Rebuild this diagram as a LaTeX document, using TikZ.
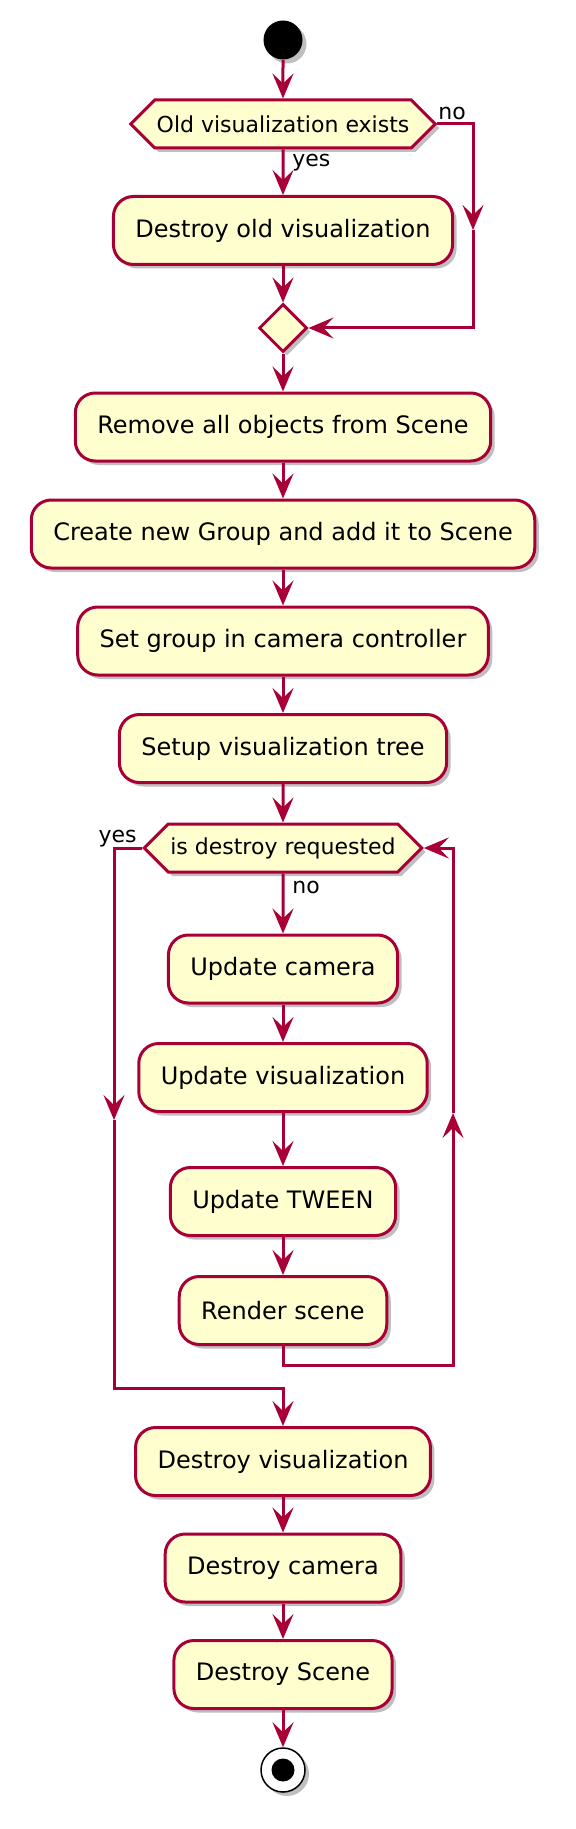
\documentclass[tikz,border=0pt]{standalone}
\usepackage{fontspec}
\setmainfont{DejaVu Sans}
\usetikzlibrary{shapes.geometric, shapes.symbols, arrows.meta, shadows}
\definecolor{umlfill}{HTML}{FEFECE}
\definecolor{umlline}{HTML}{A80036}
\tikzstyle{umlshadow} = [drop shadow={shadow xshift=2pt, shadow yshift=-2pt, opacity=0.25, fill=black}]
\tikzstyle{activity} = [rectangle, rounded corners=10pt, 
minimum height=34pt, 
inner xsep=11pt, 
text centered, 
draw=umlline, line width=1.5pt, 
fill=umlfill, umlshadow, 
font=\fontsize{12}{14}\selectfont]
\tikzstyle{decision} = [signal, signal to=west and east, signal pointer angle=90, 
minimum height=24pt, 
inner xsep=1pt, inner ysep=0pt, 
draw=umlline, line width=1.5pt, 
fill=umlfill, umlshadow, 
font=\fontsize{11}{13}\selectfont]
\tikzstyle{mergenode} = [diamond, minimum size=24pt, inner sep=0pt, 
draw=umlline, line width=1.5pt, fill=umlfill, umlshadow]
\tikzstyle{startnode} = [circle, minimum size=19.5pt, inner sep=0pt, fill=black, umlshadow]
\tikzstyle{endnode} = [circle, minimum size=22pt, inner sep=0pt, draw=black, line width=0.75pt, fill=white, umlshadow]
\tikzstyle{enddot} = [circle, minimum size=11.5pt, inner sep=0pt, fill=black]
\tikzstyle{branchlabel} = [inner sep=0pt, font=\fontsize{11}{13}\selectfont]
\tikzstyle{arrow} = [line width=1.5pt, draw=umlline, -{Stealth[length=12.5pt, width=10.5pt, inset=5pt]}]
\tikzstyle{line} = [line width=1.5pt, draw=umlline]

\begin{document}
\begin{tikzpicture}[x=0.5pt, y=-0.5pt, node distance=53.5pt]
        \useasboundingbox (0,0) rectangle (576,1829);
        \node (start) [startnode] at (283,40) {};
        \node (oldviz) [decision, below of=start, node distance=42pt] {Old visualization exists};
        \node (destroyold) [activity, below of=oldviz, node distance=53.25pt] {Destroy old visualization};
        \node (merge) [mergenode, below of=destroyold, node distance=48.75pt] {};
        \node (removeall) [activity, below of=merge, node distance=49.5pt] {Remove all objects from Scene};
        \node (newgroup) [activity, below of=removeall] {Create new Group and add it to Scene};
        \node (setgroup) [activity, below of=newgroup] {Set group in camera controller};
        \node (setuptree) [activity, below of=setgroup, node distance=53.75pt] {Setup visualization tree};
        \node (destroyreq) [decision, below of=setuptree, node distance=49.75pt] {is destroy requested};
        \node (updcam) [activity, below of=destroyreq, node distance=60.5pt] {Update camera};
        \node (updviz) [activity, below of=updcam, node distance=54.25pt] {Update visualization};
        \node (updtween) [activity, below of=updviz, node distance=62pt] {Update TWEEN};
        \node (render) [activity, below of=updtween, node distance=54.5pt] {Render scene};
        \node (destroyviz) [activity, below of=render, node distance=75.5pt] {Destroy visualization};
        \node (destroycam) [activity, below of=destroyviz, node distance=53.25pt] {Destroy camera};
        \node (destroyscene) [activity, below of=destroycam, node distance=53.25pt] {Destroy Scene};
        \node (stop) [endnode, below of=destroyscene, node distance=47.75pt] {};
        \node (stopdot) [enddot] at (stop) {};
        % branch labels
        \node (oldyes) [branchlabel, anchor=base west] at (292,167) {yes};
        \node (oldno) [branchlabel, anchor=base west] at (438,120) {no};
        \node (reqyes) [branchlabel, anchor=base east] at (137,842) {yes};
        \node (reqno) [branchlabel, anchor=base west] at (292,893) {no};
        % bend points
        \coordinate (nodown) at (473,230);
        \coordinate (yesdown) at (114,1120);
        \coordinate (yesjoin) at (114,1388);
        \coordinate (loopturn) at (453,1365);
        \coordinate (loopup) at (453,1113);
        \draw [arrow] (start) -- (oldviz);
        \draw [arrow] (oldviz) -- (destroyold);
        \draw [arrow] (oldviz.east) -| (nodown);
        \draw [arrow] (nodown) |- (merge.east);
        \draw [arrow] (destroyold) -- (merge);
        \draw [arrow] (merge) -- (removeall);
        \draw [arrow] (removeall) -- (newgroup);
        \draw [arrow] (newgroup) -- (setgroup);
        \draw [arrow] (setgroup) -- (setuptree);
        \draw [arrow] (setuptree) -- (destroyreq);
        \draw [arrow] (destroyreq) -- (updcam);
        \draw [arrow] (updcam) -- (updviz);
        \draw [arrow] (updviz) -- (updtween);
        \draw [arrow] (updtween) -- (render);
        \draw [arrow] (render.south) |- (loopturn) -- (loopup);
        \draw [arrow] (loopup) |- (destroyreq.east);
        \draw [arrow] (destroyreq.west) -| (yesdown);
        \draw [arrow] (yesdown) -- (yesjoin) -| (destroyviz.north);
        \draw [arrow] (destroyviz) -- (destroycam);
        \draw [arrow] (destroycam) -- (destroyscene);
        \draw [arrow] (destroyscene) -- (stop);
    \end{tikzpicture}
\end{document}
